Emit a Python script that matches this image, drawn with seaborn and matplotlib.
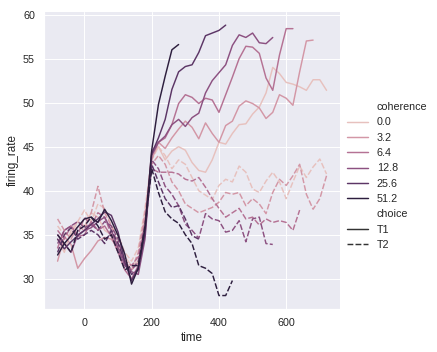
import pandas as pd
import seaborn as sns
import matplotlib
matplotlib.use("Agg")
import matplotlib.pyplot as plt

# time axis of the recordings (ms), every 20 ms
times = list(range(-80, 740, 20))

# choice T1, one list per coherence level (lists stop where the trial ends)
t1_coh_00 = [34.5, 33.0, 35.5, 36.5, 36.0, 37.5, 37.0, 35.5, 35.0, 34.0, 32.5, 31.5, 32.0, 37.0,
             44.0, 45.0, 43.5, 44.5, 45.0, 44.6, 43.2, 42.3, 42.1, 43.5, 45.5, 45.3, 46.5, 47.5,
             47.6, 48.7, 49.5, 51.1, 54.0, 53.3, 52.3, 52.1, 51.8, 51.4, 52.6, 52.6, 51.4]
t1_coh_32 = [32.0, 34.8, 33.9, 31.2, 32.3, 33.2, 34.3, 34.7, 34.5, 33.5, 32.0, 31.0, 31.8, 36.5,
             43.5, 45.5, 44.8, 46.0, 47.0, 47.9, 47.2, 45.9, 47.7, 46.5, 45.5, 47.4, 47.9, 49.6,
             50.2, 49.9, 49.4, 48.2, 48.9, 50.9, 50.5, 49.7, 53.5, 57.0, 57.1]
t1_coh_64 = [33.5, 35.5, 36.0, 34.8, 35.0, 36.5, 35.5, 36.0, 34.8, 33.0, 31.0, 30.0, 31.5, 36.0,
             44.5, 45.5, 46.0, 47.5, 49.9, 50.9, 50.6, 49.9, 50.5, 50.3, 48.9, 50.9, 52.9, 55.0,
             56.4, 56.3, 55.6, 52.8, 51.4, 55.4, 58.4, 58.4]
t1_coh_128 = [35.0, 34.0, 33.0, 35.0, 35.5, 35.8, 36.5, 37.0, 35.5, 33.5, 31.5, 30.8, 30.5, 34.5,
              44.0, 45.5, 46.2, 47.5, 48.1, 47.3, 48.3, 48.8, 51.1, 52.5, 53.4, 54.3, 56.5, 57.7,
              57.4, 57.9, 56.8, 56.7, 57.4]
t1_coh_256 = [34.5, 33.4, 34.2, 34.9, 35.5, 36.2, 36.8, 37.6, 37.2, 35.3, 31.9, 29.8, 31.3, 35.0,
              44.2, 46.0, 48.1, 51.5, 53.5, 54.1, 54.3, 55.7, 57.6, 57.9, 58.2, 58.8]
t1_coh_512 = [32.7, 34.0, 34.9, 35.9, 36.8, 37.0, 36.4, 37.9, 36.6, 34.9, 32.8, 29.4, 31.2, 35.7,
              44.6, 49.8, 53.0, 56.0, 56.6]

# choice T2
t2_coh_00 = [36.0, 35.0, 35.0, 36.5, 37.8, 36.5, 38.5, 38.0, 36.0, 35.0, 33.0, 32.0, 33.5, 38.0,
             43.5, 45.0, 44.0, 42.5, 43.5, 43.0, 41.5, 40.0, 39.5, 39.0, 40.6, 41.3, 41.0, 42.8,
             42.1, 40.2, 39.8, 41.1, 42.1, 41.0, 39.1, 41.0, 42.8, 41.5, 42.7, 43.6, 41.9]
t2_coh_32 = [36.8, 35.5, 34.5, 36.0, 35.5, 37.5, 40.5, 37.5, 36.0, 34.0, 32.0, 31.0, 33.0, 37.5,
             43.0, 44.0, 43.0, 41.0, 40.0, 38.5, 38.0, 37.5, 37.8, 38.1, 38.7, 39.8, 39.6, 39.8,
             38.3, 39.1, 38.5, 37.4, 39.8, 41.3, 40.6, 41.7, 43.0, 39.6, 37.9, 39.1, 41.7]
t2_coh_64 = [35.5, 34.5, 36.0, 35.0, 37.0, 36.0, 37.5, 37.0, 35.0, 33.0, 32.0, 31.5, 32.5, 36.5,
             42.5, 42.1, 42.1, 42.1, 41.9, 41.3, 41.1, 41.5, 40.4, 39.1, 38.0, 37.0, 37.5, 38.0,
             36.8, 37.0, 36.1, 36.8, 36.4, 36.6, 36.4, 35.5, 37.8]
t2_coh_128 = [34.0, 35.5, 36.0, 36.5, 35.8, 36.2, 35.5, 36.5, 36.0, 34.5, 31.5, 31.0, 32.0, 36.0,
              43.5, 42.5, 40.5, 39.6, 38.3, 36.2, 35.5, 34.6, 37.4, 36.8, 36.6, 35.3, 35.5, 36.6,
              34.2, 36.8, 37.0, 34.0, 33.9]
t2_coh_256 = [33.0, 35.0, 35.8, 34.5, 35.0, 35.5, 35.0, 34.0, 35.5, 34.0, 32.0, 30.5, 31.0, 35.5,
              43.0, 41.0, 39.1, 38.1, 38.3, 36.8, 34.9, 34.5]
t2_coh_512 = [35.0, 34.0, 33.0, 35.5, 36.0, 37.0, 36.0, 34.5, 35.0, 33.0, 31.0, 31.5, 31.5, 36.0,
              42.5, 39.8, 37.6, 36.8, 36.3, 35.0, 34.0, 31.5, 31.2, 30.6, 28.1, 28.1, 29.8]

series = {
    ("T1", 0.0): t1_coh_00, ("T1", 3.2): t1_coh_32, ("T1", 6.4): t1_coh_64,
    ("T1", 12.8): t1_coh_128, ("T1", 25.6): t1_coh_256, ("T1", 51.2): t1_coh_512,
    ("T2", 0.0): t2_coh_00, ("T2", 3.2): t2_coh_32, ("T2", 6.4): t2_coh_64,
    ("T2", 12.8): t2_coh_128, ("T2", 25.6): t2_coh_256, ("T2", 51.2): t2_coh_512,
}

rows = []
for (choice, coh), vals in series.items():
    for t, v in zip(times, vals):
        rows.append({"choice": choice, "coherence": coh, "time": t, "firing_rate": v})
dots = pd.DataFrame(rows)

sns.set_theme(style="darkgrid")
plt.rcParams["font.family"] = ["Liberation Sans", "DejaVu Sans"]

# one colour per coherence level
palette = sns.cubehelix_palette(light=.8, n_colors=6)

g = sns.relplot(data=dots, kind="line", x="time", y="firing_rate",
                hue="coherence", style="choice", palette=palette,
                legend="full", height=5, aspect=1)

fig = g.figure
fig.set_size_inches(437 / 70, 352 / 70)
fig.subplots_adjust(left=0.101, right=0.778, bottom=0.122, top=0.967)
g.ax.set_xticks([0, 200, 400, 600])

fig.savefig("out.png", dpi=70)
